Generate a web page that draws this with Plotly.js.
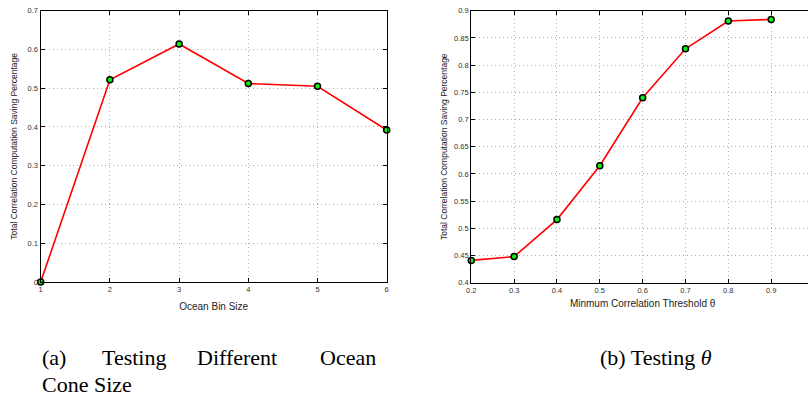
<!DOCTYPE html>
<html>
<head>
<meta charset="utf-8">
<script src="https://cdn.plot.ly/plotly-3.0.1.min.js"></script>
<style>
html,body{margin:0;padding:0;overflow:hidden;background:#fff;}
#chart{width:830px;height:400px;}
</style>
</head>
<body>
<div id="chart"></div>
<script>
// Data
const binSizes = [1, 2, 3, 4, 5, 6];
const binSaving = [0.0, 0.522, 0.614, 0.512, 0.505, 0.392];
const thresholds = [0.2, 0.3, 0.4, 0.5, 0.6, 0.7, 0.8, 0.9];
const thrSaving = [0.441, 0.448, 0.516, 0.615, 0.740, 0.830, 0.881, 0.884];
const xTicksB = [0.2, 0.3, 0.4, 0.5, 0.6, 0.7, 0.8, 0.9];
const xTitleA = 'Ocean Bin Size';
const xTitleB = 'Minmum Correlation Threshold θ';
const yTitle = 'Total Correlation Computation Saving Percentage';
const captionA1Words = ['(a)', 'Testing', 'Different', 'Ocean'];
const captionA2 = 'Cone Size';
const captionB = '(b) Testing <i>θ</i>';

const W = 830, H = 400;
const px = v => v / W;
const py = v => 1 - v / H;

const lineStyle = {color: '#ff0000', width: 1.6};
const markerStyle = {color: '#11ee11', size: 6, line: {color: '#000', width: 1.5}};

const traces = [
  {x: binSizes, y: binSaving, mode: 'lines+markers', line: lineStyle, marker: markerStyle,
   xaxis: 'x', yaxis: 'y', cliponaxis: false, showlegend: false},
  {x: thresholds, y: thrSaving, mode: 'lines+markers', line: lineStyle, marker: markerStyle,
   xaxis: 'x2', yaxis: 'y2', cliponaxis: false, showlegend: false}
];

const sans = 'Liberation Sans, Arial, sans-serif';
const serif = 'Liberation Serif, Times New Roman, serif';
const tickFont = {family: sans, size: 7.5, color: '#333'};
const xTitleFont = {family: sans, size: 10, color: '#222'};
const yTitleFont = {family: sans, size: 8.5, color: '#222'};
const axBase = {
  showline: true, linecolor: '#000', linewidth: 1.2, mirror: 'ticks',
  ticks: 'inside', ticklen: 4, tickcolor: '#000', tickwidth: 1,
  showgrid: true, gridcolor: '#b0b0b0', griddash: '1px,3px', gridwidth: 1,
  zeroline: false, tickfont: tickFont, automargin: false
};

const capFont = {family: serif, size: 22, color: '#000'};
const wordX = [40, 100, 195, 378];
const annotations = captionA1Words.map((w, i) => ({
  text: w, xref: 'paper', yref: 'paper', x: px(wordX[i]), y: py(357),
  xanchor: i === captionA1Words.length - 1 ? 'right' : 'left', yanchor: 'middle',
  showarrow: false, font: capFont
}));
annotations.push(
  {text: captionA2, xref: 'paper', yref: 'paper', x: px(40), y: py(384), xanchor: 'left', yanchor: 'middle',
   showarrow: false, font: capFont},
  {text: captionB, xref: 'paper', yref: 'paper', x: px(598), y: py(357), xanchor: 'left', yanchor: 'middle',
   showarrow: false, font: capFont}
);

const layout = {
  width: W, height: H,
  margin: {l: 0, r: 0, t: 0, b: 0},
  paper_bgcolor: '#fff', plot_bgcolor: '#fff',
  xaxis: Object.assign({}, axBase, {domain: [px(40.7), px(386.7)], range: [1, 6], dtick: 1, tick0: 1,
    title: {text: xTitleA, font: xTitleFont, standoff: 9}, anchor: 'y'}),
  yaxis: Object.assign({}, axBase, {domain: [py(282), py(10.7)], range: [0, 0.7], dtick: 0.1, tick0: 0,
    title: {text: yTitle, font: yTitleFont, standoff: 8}, anchor: 'x'}),
  xaxis2: Object.assign({}, axBase, {domain: [px(471.3), px(814)], range: [0.2, 1.0],
    tickmode: 'array', tickvals: xTicksB,
    title: {text: xTitleB, font: xTitleFont, standoff: 6}, anchor: 'y2'}),
  yaxis2: Object.assign({}, axBase, {domain: [py(282.7), py(10.7)], range: [0.4, 0.9], dtick: 0.05, tick0: 0.4,
    title: {text: yTitle, font: yTitleFont, standoff: 5}, anchor: 'x2'}),
  annotations: annotations
};

Plotly.newPlot('chart', traces, layout, {staticPlot: true, displayModeBar: false});
</script>
</body>
</html>
